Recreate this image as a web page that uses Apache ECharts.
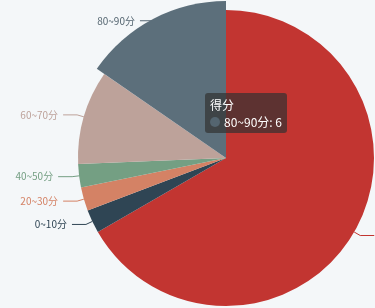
<!DOCTYPE html>
<html>
<head>
<meta charset="utf-8">
<script src="https://cdn.jsdelivr.net/npm/echarts@6/dist/echarts.min.js"></script>
<style>
    html,body{margin:0;padding:0;background:#f4f7f9;}
    #main{width:375px;height:308px;}
</style>
</head>
<body>
<div id="main"></div>
<script>
    // 分数段
    var categories = ['90~100分', '0~10分', '20~30分', '40~50分', '60~70分', '80~90分'];
    // 人数
    var values = [26, 1, 1, 1, 4, 6];
    var colors = ['#c23531', '#2f4554', '#d48265', '#749f83', '#bda29a', '#546570'];
    var seriesName = '得分';

    var seriesData = [];
    categories.map(function(name, i){
        seriesData.push({name: name, value: values[i]});
    });

    var myChart = echarts.init(document.getElementById('main'));
    var option = {
        backgroundColor: '#f4f7f9',
        animation: false,
        color: colors,
        tooltip: {
            trigger: 'item',
            backgroundColor: 'rgba(50,50,50,0.7)',
            borderWidth: 0,
            padding: [3, 5],
            extraCssText: 'box-shadow:none;border-radius:3px;line-height:17px;',
            textStyle: {
                color: '#fff',
                fontSize: 12,
                fontFamily: '"Noto Sans CJK SC", sans-serif'
            },
            position: [205, 93],
            formatter: function(params){
                return params.seriesName + '<br/>' + params.marker + params.name + ': ' + params.value;
            }
        },
        series: [{
            name: seriesName,
            type: 'pie',
            radius: 148,
            center: [226, 158],
            startAngle: 90,
            clockwise: true,
            label: {
                color: 'inherit',
                fontSize: 10,
                fontFamily: '"Noto Sans CJK SC", sans-serif'
            },
            labelLine: {
                length: 7,
                length2: 14
            },
            emphasis: {
                scale: true,
                scaleSize: 9,
                label: {fontWeight: 'normal'}
            },
            data: seriesData
        }]
    };
    myChart.setOption(option);
    myChart.dispatchAction({type: 'highlight', seriesIndex: 0, dataIndex: 5});
    myChart.dispatchAction({type: 'showTip', seriesIndex: 0, dataIndex: 5});
</script>
</body>
</html>
